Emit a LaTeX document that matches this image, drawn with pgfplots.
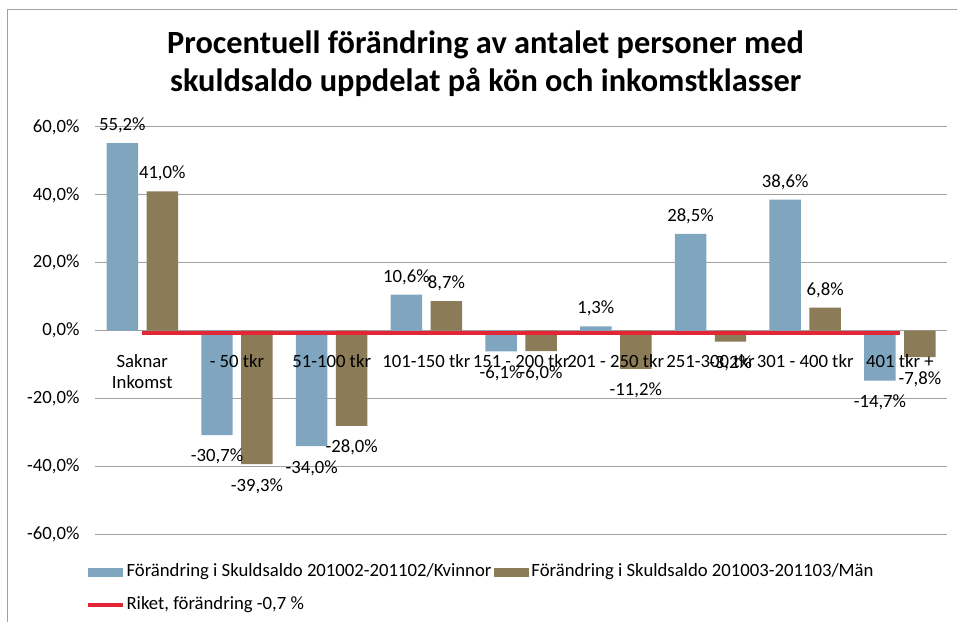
\documentclass[border=0pt]{standalone}
\usepackage{fontspec}
\setmainfont{Carlito}
\usepackage{pgfplots}
\pgfplotsset{compat=1.18}
\definecolor{barblue}{RGB}{128,165,191}
\definecolor{barbrown}{RGB}{139,123,86}
\definecolor{rikred}{RGB}{226,38,54}
\definecolor{gridgray}{RGB}{160,160,160}
\newcommand{\lblfont}{\fontsize{18.8}{21}\selectfont}
\tikzset{catlabel/.style={anchor=base, yshift=-37bp, font=\lblfont, inner sep=0pt}}
\begin{document}
\begin{tikzpicture}[x=1bp,y=1bp]
\path (0,0) rectangle (958,622);
\draw[gridgray, line width=1.5bp] (7.5,0) -- (7.5,612.5) -- (958,612.5);
\node[anchor=base, font=\fontsize{32.5}{38}\selectfont\bfseries] at (486,568) {Procentuell förändring av antalet personer med};
\node[anchor=base, font=\fontsize{32.5}{38}\selectfont\bfseries] at (486,530) {skuldsaldo uppdelat på kön och inkomstklasser};
\begin{axis}[
  at={(95bp,87bp)}, anchor=south west, scale only axis,
  width=853bp, height=408bp,
  xmin=-0.5, xmax=8.5, ymin=-60, ymax=60,
  axis line style={draw=none}, major tick length=0pt,
  ytick={-60,-40,...,60},
  yticklabels={{-60,0\%},{-40,0\%},{-20,0\%},{0,0\%},{20,0\%},{40,0\%},{60,0\%}},
  ymajorgrids, grid style={gridgray, line width=1bp},
  xtick=\empty,
  yticklabel style={font=\lblfont, xshift=-12bp},
  /pgf/number format/assume math mode=true,
  legend columns=2,
  legend cell align=left,
  legend style={at={(axis description cs:-0.0106,-0.0662)}, anchor=north west,
    draw=none, fill=none, inner sep=0pt, font=\lblfont,
    nodes={inner sep=2bp, text height=13bp, text depth=4bp},
    row sep=12bp, /tikz/every even column/.append style={column sep=1bp}},
  nodes near coords={\pgfmathprintnumber[fixed,fixed zerofill,precision=1,use comma]{\pgfplotspointmeta}\%},
  every node near coord/.append style={font=\lblfont, text height=16.5bp, text depth=2bp, inner ysep=10.25bp, inner xsep=0pt, black},
]
\addplot[ybar, bar width=31.5bp, bar shift=-20bp, fill=barblue, draw=none, point meta=y,
  every node near coord/.append style={xshift=-20bp},
  legend image code/.code={\fill[barblue] (0bp,-4.5bp) rectangle (35bp,4.5bp);}]
  coordinates {(0,55.2) (1,-30.7) (2,-34.0) (3,10.6) (4,-6.1) (5,1.3) (6,28.5) (7,38.6) (8,-14.7)};
\addlegendentry{Förändring i Skuldsaldo 201002-201102/Kvinnor}
\addplot[ybar, bar width=31.5bp, bar shift=20bp, fill=barbrown, draw=none, point meta=y,
  every node near coord/.append style={xshift=20bp},
  legend image code/.code={\fill[barbrown] (0bp,-4.5bp) rectangle (35bp,4.5bp);}]
  coordinates {(0,41.0) (1,-39.3) (2,-28.0) (3,8.7) (4,-6.0) (5,-11.2) (6,-3.2) (7,6.8) (8,-7.8)};
\addlegendentry{Förändring i Skuldsaldo 201003-201103/Män}
\addplot[rikred, line width=3.5bp, mark=none, nodes near coords={},
  legend image code/.code={\draw[rikred, line width=3.5bp] (0bp,0bp) -- (35bp,0bp);}]
  coordinates {(0,-0.7) (1,-0.7) (2,-0.7) (3,-0.7) (4,-0.7) (5,-0.7) (6,-0.7) (7,-0.7) (8,-0.7)};
\addlegendentry{Riket, förändring -0,7 \%}
\node[catlabel] at (axis cs:0,0) {\begin{tabular}[t]{@{}c@{}}Saknar\\Inkomst\end{tabular}};
\node[catlabel] at (axis cs:1,0) {- 50 tkr};
\node[catlabel] at (axis cs:2,0) {51-100 tkr};
\node[catlabel] at (axis cs:3,0) {101-150 tkr};
\node[catlabel] at (axis cs:4,0) {151 - 200 tkr};
\node[catlabel] at (axis cs:5,0) {201 - 250 tkr};
\node[catlabel] at (axis cs:6,0) {251-300 tkr};
\node[catlabel] at (axis cs:7,0) {301 - 400 tkr};
\node[catlabel] at (axis cs:8,0) {401 tkr +};
\end{axis}
\end{tikzpicture}
\end{document}
